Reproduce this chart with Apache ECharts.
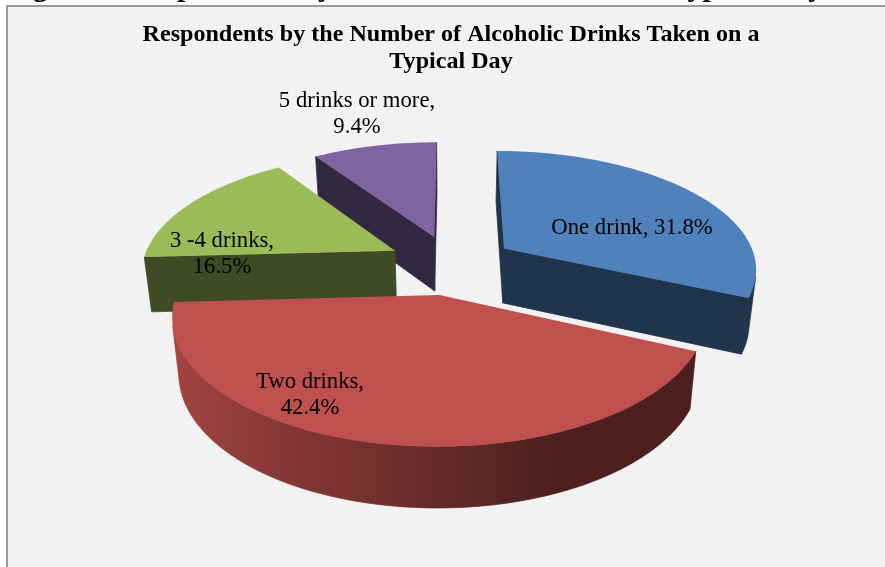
<!DOCTYPE html>
<html>
<head>
<meta charset="utf-8">
<style>html,body{margin:0;padding:0;background:#fff}#chart{width:885px;height:567px}</style>
<script src="https://cdn.jsdelivr.net/npm/echarts@6/dist/echarts.min.js"></script>
</head>
<body>
<div id="chart"></div>
<script>
// Survey shares, in clockwise order from twelve o'clock
const categories = ['One drink', 'Two drinks', '3 -4 drinks', '5 drinks or more'];
const shares = [31.8, 42.4, 16.5, 9.4];
const labelBreaks = [', ', ',\n', ',\n', ',\n'];
const sliceColors = ['#4f81bd', '#c0504d', '#9bbb59', '#8064a2'];
const sliceExplode = [0.25, 0.258, 0.256, 0.25];
const paintOrder = [3, 2, 0, 1];

const headingText = 'Figure 5: Respondents by Number of Drinks on the Typical Day';
const titleText = 'Respondents by the Number of Alcoholic Drinks Taken on a\nTypical Day';

// Camera model for the tilted pie: a plane homography plus an extruded wall
const view = { cx: 452, cy: 264, ax: 253, ay: 117.2, persp: 0.156, wall: 55, floorShrink: 0.976 };
const labelAnchors = [[632, 228], [310, 395], [222, 254], [357, 114]];
const serif = '"Liberation Serif", "Times New Roman", serif';
const labelFont = '22.7px ' + serif;

const total = shares.reduce((a, b) => a + b, 0);
const rad = d => d * Math.PI / 180;
const startAngles = [];
shares.reduce((acc, v, i) => { startAngles[i] = acc; return acc + v / total * 360; }, 0);

function project(u, v) {
  const w = 1 + view.persp * v;
  const x = view.cx + view.ax * u / w;
  const y = view.cy - view.ay * v / w;
  return { x, y, top: [x, y], bottom: [view.cx + (x - view.cx) * view.floorShrink, y + view.wall / Math.sqrt(w)] };
}
function shade(hex, f) {
  const n = parseInt(hex.slice(1), 16);
  const c = [n >> 16, (n >> 8) & 255, n & 255].map(k => Math.round(k * f));
  return 'rgb(' + c.join(',') + ')';
}
function area(pts) {
  let s = 0;
  pts.forEach((p, i) => { const q = pts[(i + 1) % pts.length]; s += p[0] * q[1] - q[0] * p[1]; });
  return s;
}
function poly(points, fill, z2, outline) {
  return { type: 'polygon', z2, shape: { points }, style: outline ? { fill, stroke: fill, lineWidth: 0.8 } : { fill } };
}
// Light falls from the left, so the curved wall darkens towards the right
function wallLight(theta) {
  return Math.max(0.4, 0.53 - 0.34 * Math.sin(rad(theta)));
}
// One polygon for a run of rim points, filled with a horizontal light ramp
function curvedWall(run, color) {
  const xs = run.map(p => p.x);
  const x0 = Math.min.apply(null, xs);
  const x1 = Math.max.apply(null, xs);
  const stops = run
    .map(p => ({ offset: (p.x - x0) / Math.max(1, x1 - x0), color: shade(color, wallLight(p.theta)) }))
    .sort((a, b) => a.offset - b.offset);
  const points = run.map(p => p.top).concat(run.slice().reverse().map(p => p.bottom));
  return poly(points, { type: 'linear', x: x0, y: 0, x2: x1, y2: 0, global: true, colorStops: stops }, 1, true);
}

function renderSlice(params, api) {
  const i = api.value(0);
  const span = api.value(1) / total * 360;
  const from = startAngles[i];
  const mid = rad(from + span / 2);
  const ox = sliceExplode[i] * Math.sin(mid);
  const oy = sliceExplode[i] * Math.cos(mid);
  const color = sliceColors[i];
  const apex = project(ox, oy);

  const rim = [];
  const steps = Math.max(2, Math.ceil(span / 1.5));
  for (let k = 0; k <= steps; k++) {
    const t = from + span * k / steps;
    const p = project(ox + Math.sin(rad(t)), oy + Math.cos(rad(t)));
    p.theta = t;
    rim.push(p);
  }

  const children = [];
  // Curved wall: keep only the stretches that face the viewer
  let run = [];
  for (let k = 0; k < steps; k++) {
    const a = rim[k], b = rim[k + 1];
    if (area([a.top, b.top, b.bottom, a.bottom]) < 0) {
      if (!run.length) run.push(a);
      run.push(b);
    } else if (run.length) {
      children.push(curvedWall(run, color));
      run = [];
    }
  }
  if (run.length) children.push(curvedWall(run, color));
  // Flat cut faces, only where they turn towards the viewer
  const first = rim[0], last = rim[steps];
  const startWall = [apex.top, first.top, first.bottom, apex.bottom];
  const endWall = [apex.top, last.top, last.bottom, apex.bottom];
  if (area(startWall) < 0) children.push(poly(startWall, shade(color, 0.4), 2, true));
  if (area(endWall) > 0) children.push(poly(endWall, shade(color, 0.4), 2, true));
  // Top face
  children.push(poly([apex.top].concat(rim.map(p => p.top)), color, 3));
  // Label
  children.push({
    type: 'text', z2: 100,
    style: {
      x: labelAnchors[i][0], y: labelAnchors[i][1],
      text: categories[i] + labelBreaks[i] + shares[i].toFixed(1) + '%',
      font: labelFont, lineHeight: 26, fill: '#000', align: 'center', verticalAlign: 'middle'
    }
  });
  return { type: 'group', children };
}

const chart = echarts.init(document.getElementById('chart'), null, { renderer: 'canvas' });
chart.setOption({
  animation: false,
  backgroundColor: '#ffffff',
  title: [
    { text: headingText, left: 6, top: -27, padding: 0,
      textStyle: { fontFamily: serif, fontWeight: 'bold', fontSize: 30, color: '#000' } },
    { text: titleText, left: 451, top: 21, textAlign: 'center', padding: 0,
      textStyle: { fontFamily: serif, fontWeight: 'bold', fontSize: 24.1, lineHeight: 27, color: '#000' } }
  ],
  graphic: [{
    type: 'rect', z: -10, silent: true,
    shape: { x: 7, y: 6, width: 900, height: 600 },
    style: { fill: '#f2f2f2', stroke: '#9a9a9a', lineWidth: 2 }
  }],
  series: [{
    type: 'custom',
    coordinateSystem: 'none',
    silent: true,
    renderItem: renderSlice,
    data: paintOrder.map(i => [i, shares[i]])
  }]
});
</script>
</body>
</html>
